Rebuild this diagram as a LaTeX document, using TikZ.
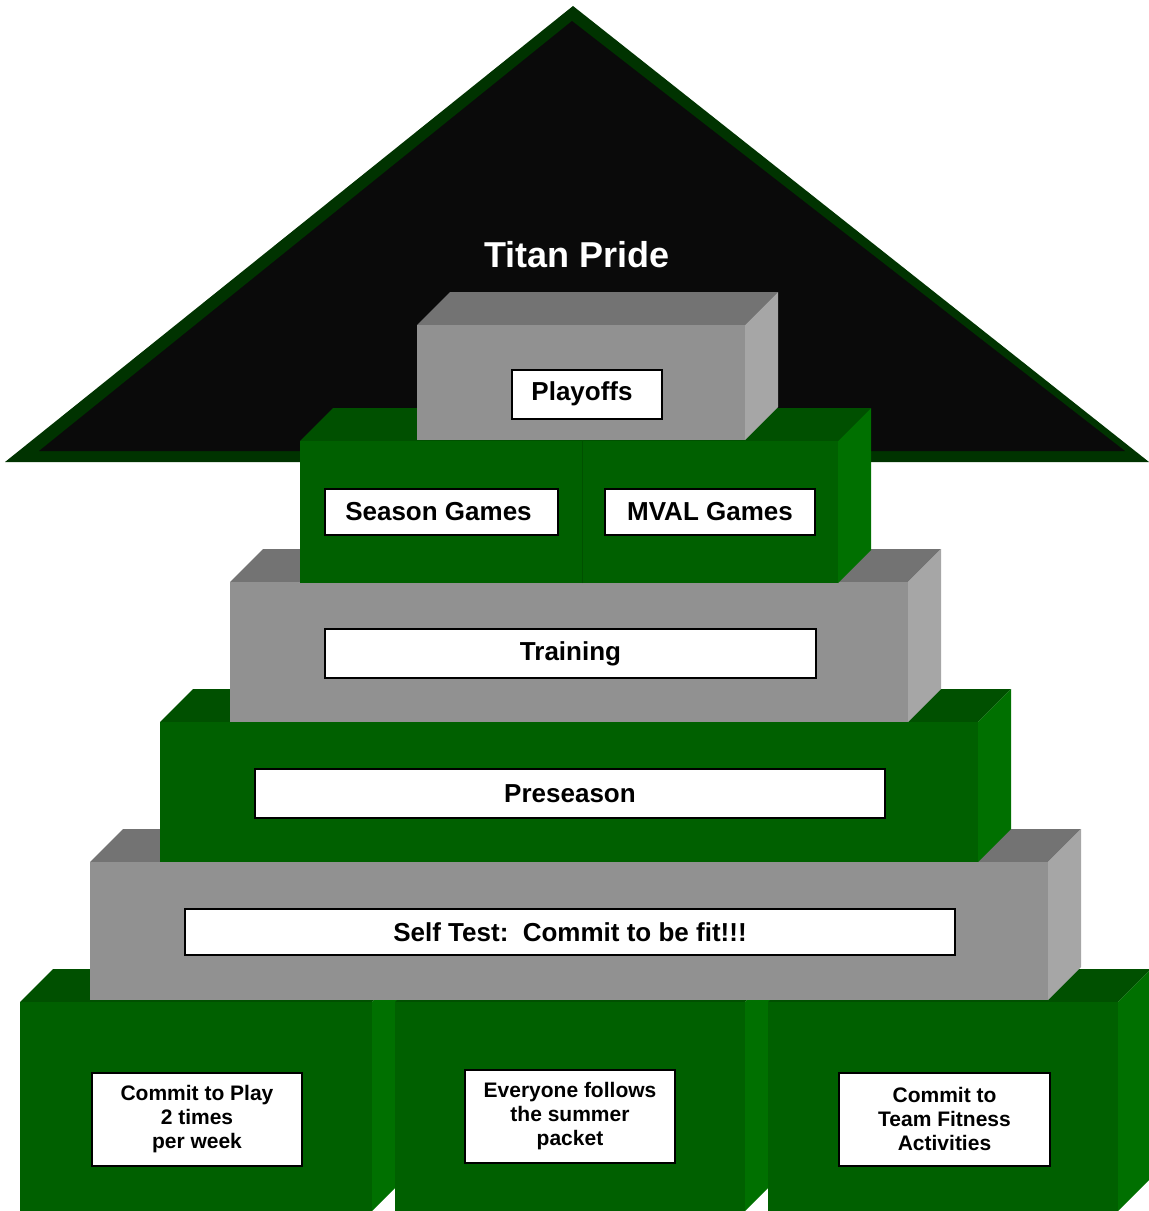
\documentclass[tikz,border=0pt]{standalone}
\usepackage{fontspec}
\setmainfont{Liberation Sans}

\definecolor{roofrim}{RGB}{0,51,0}
\definecolor{roofin}{RGB}{10,10,10}
\definecolor{grayfront}{RGB}{145,145,145}
\definecolor{graytop}{RGB}{115,115,115}
\definecolor{grayside}{RGB}{166,166,166}
\definecolor{greenfront}{RGB}{0,96,0}
\definecolor{greentop}{RGB}{0,80,0}
\definecolor{greenside}{RGB}{0,112,0}

% block with front face (#1,#2)-(#3,#4), colours #5 (front) #6 (top) #7 (side)
\newcommand{\block}[7]{%
  \fill[#6] (#1,#2) -- (#1+33,#2-33) -- (#3+33,#2-33) -- (#3,#2) -- cycle;
  \fill[#7] (#3,#2) -- (#3+33,#2-33) -- (#3+33,#4-33) -- (#3,#4) -- cycle;
  \fill[#5] (#1,#2) rectangle (#3,#4);
}

\tikzset{
  label/.style={draw=black, line width=2pt, fill=white, inner sep=0pt,
    font=\bfseries\fontsize{26}{30}\selectfont},
  small label/.style={label, align=center,
    font=\bfseries\fontsize{21}{24}\selectfont}
}

\begin{document}
\begin{tikzpicture}[x=1pt,y=-1pt]

  \useasboundingbox (0,0) rectangle (1149,1211);
  \clip (0,0) rectangle (1149,1211);

  % roof
  \fill[roofrim] (5,462) -- (573,6) -- (1149,462) -- cycle;
  \fill[roofin] (39,451) -- (572,21) -- (1125,451) -- cycle;
  \node[text=white, font=\bfseries\fontsize{36}{40}\selectfont] (title) at (577,255) {Titan Pride};

  % bottom row
  \block{20}{1002}{372}{1211}{greenfront}{greentop}{greenside}
  \block{395}{1002}{745}{1211}{greenfront}{greentop}{greenside}
  \block{768}{1002}{1118}{1211}{greenfront}{greentop}{greenside}

  % layers
  \block{90}{862}{1048}{1000}{grayfront}{graytop}{grayside}
  \block{160}{722}{978}{862}{greenfront}{greentop}{greenside}
  \block{230}{582}{908}{722}{grayfront}{graytop}{grayside}
  \block{300}{441}{582}{583}{greenfront}{greentop}{greenside}
  \block{582}{441}{838}{583}{greenfront}{greentop}{greenside}
  \draw[greentop, line width=1pt] (582,441) -- (582,583);
  \block{417}{325}{745}{440}{grayfront}{graytop}{grayside}

  % labels
  \node[label, minimum width=150, minimum height=49] (playoffs) at (587,394) {\hspace{-10pt}Playoffs};
  \node[label, minimum width=233, minimum height=46] (season) at (441.5,512) {\hspace{-6pt}Season Games};
  \node[label, minimum width=210, minimum height=46] (mval) at (710,512) {MVAL Games};
  \node[label, minimum width=491, minimum height=49] (training) at (570.5,653.5) {Training};
  \node[label, minimum width=630, minimum height=49] (preseason) at (570,793.5) {Preseason};
  \node[label, minimum width=770, minimum height=46] (selftest) at (570,932) {Self Test:\ \ Commit to be fit!!!};

  \node[small label, minimum width=210, minimum height=93] (play) at (197,1119) {Commit to Play\\2 times\\per week};
  \node[small label, minimum width=210, minimum height=93] (summer) at (570,1116.5) {Everyone follows\\the summer\\packet};
  \node[small label, minimum width=211, minimum height=93] (fitness) at (944.5,1119) {Commit to\\Team Fitness\\Activities};

\end{tikzpicture}
\end{document}
